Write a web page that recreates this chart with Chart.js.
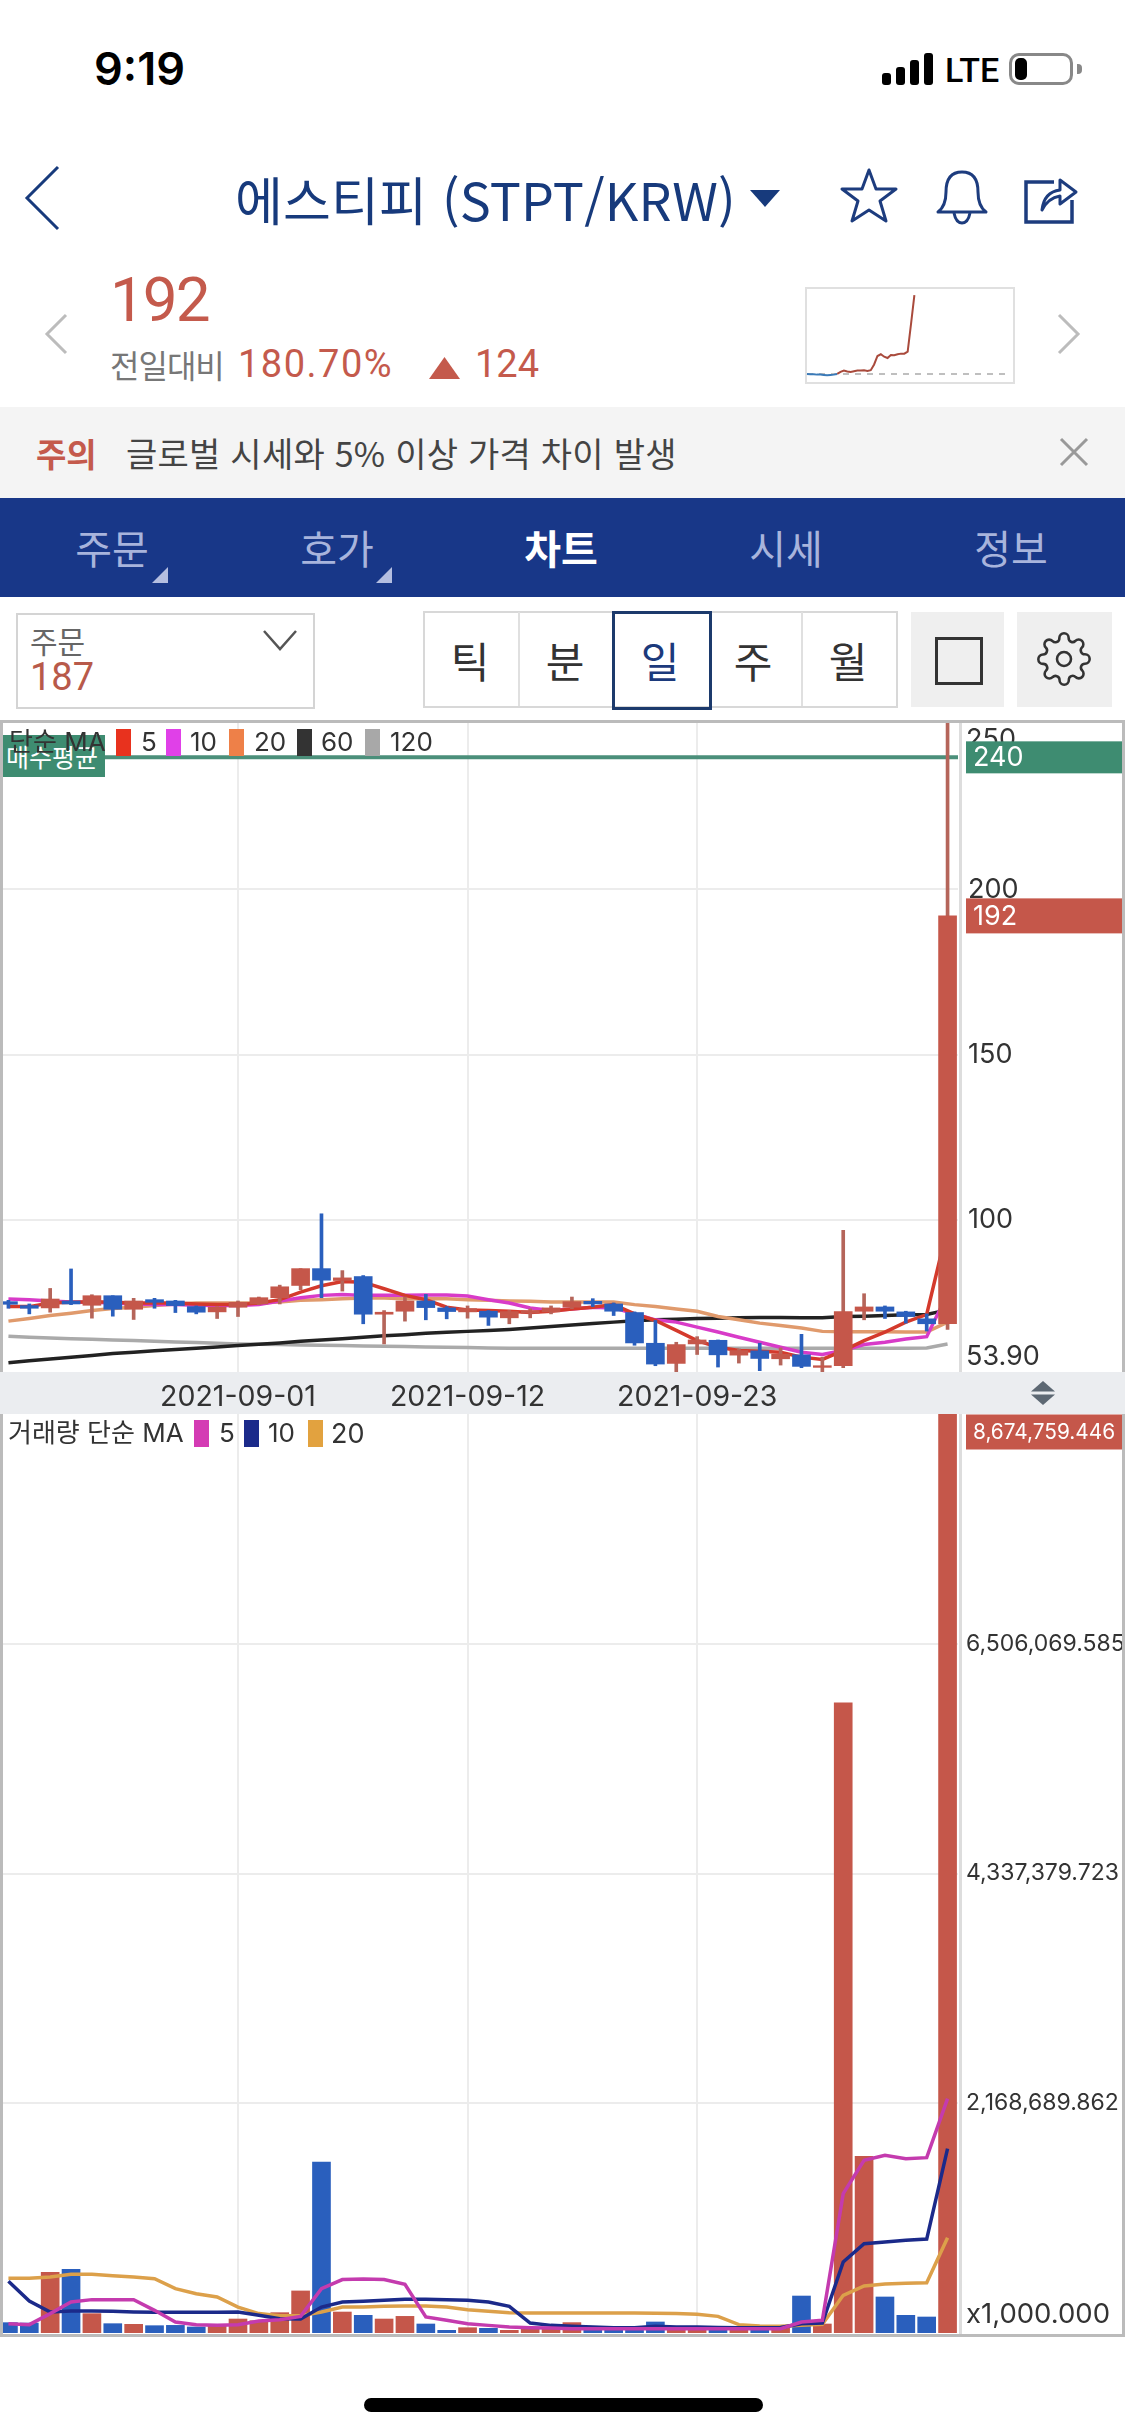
<!DOCTYPE html>
<html lang="ko">
<head>
<meta charset="utf-8">
<title>STPT/KRW</title>
<script src="https://cdn.jsdelivr.net/npm/chart.js@4/dist/chart.umd.js"></script>
<style>
  html, body { margin: 0; padding: 0; background: #fff; }
  #page { position: relative; width: 1125px; height: 2436px; overflow: hidden; background: #fff; font-family: "Noto Sans CJK KR", Roboto, sans-serif; }
  #page div, #page svg, #page canvas { position: absolute; }
  .t { white-space: nowrap; line-height: 1; transform: translateY(-50%); }
  .c { transform: translate(-50%, -50%); }
  .r { font-family: Roboto, sans-serif; }
  .i { font-family: Inter, "Noto Sans CJK KR", sans-serif; }
</style>
</head>
<body>
<div id="page">
  <!-- status bar -->
  <div class="t" style="left:94px;top:68px;font:600 45px Inter;color:#000">9:19</div>
  <div style="left:882px;top:73px;width:9px;height:12px;background:#000;border-radius:3px"></div>
  <div style="left:896px;top:67px;width:9px;height:18px;background:#000;border-radius:3px"></div>
  <div style="left:910px;top:60px;width:9px;height:25px;background:#000;border-radius:3px"></div>
  <div style="left:924px;top:53px;width:9px;height:32px;background:#000;border-radius:3px"></div>
  <div class="t r" style="left:945px;top:70px;font-size:34px;font-weight:500;color:#000">LTE</div>
  <div style="left:1009px;top:53px;width:58px;height:26px;border:3px solid #888;border-radius:10px"></div>
  <div style="left:1015px;top:58px;width:12px;height:22px;background:#000;border-radius:5px"></div>
  <div style="left:1077px;top:64px;width:5px;height:10px;background:#888;border-radius:0 4px 4px 0"></div>

  <!-- title row -->
  <svg style="left:22px;top:165px" width="40" height="66"><polyline points="36,2 5,33 36,64" fill="none" stroke="#173a7c" stroke-width="3"/></svg>
  <div class="t" style="left:235px;top:199px;font-size:52px;letter-spacing:.2px;color:#173a7c">에스티피 (STPT/KRW)</div>
  <svg style="left:750px;top:190px" width="30" height="17"><polygon points="0,0 30,0 15,17" fill="#173a7c"/></svg>
  <svg style="left:838px;top:166px" width="62" height="60"><polygon points="31,4 38,23 58,23 42,35 48,55 31,44 14,55 20,35 4,23 24,23" fill="none" stroke="#1d3c7e" stroke-width="3" stroke-linejoin="round"/></svg>
  <svg style="left:932px;top:166px" width="60" height="62"><path d="M6 46 Q14 40 14 26 Q14 6 30 6 Q46 6 46 26 Q46 40 54 46 Z" fill="none" stroke="#1d3c7e" stroke-width="3" stroke-linejoin="round"/><path d="M22 47 Q24 57 30 57 Q36 57 38 47" fill="none" stroke="#1d3c7e" stroke-width="3"/></svg>
  <svg style="left:1022px;top:170px" width="58" height="56"><path d="M32 12 H4 V52 H50 V30" fill="none" stroke="#1d3c7e" stroke-width="3.5"/><path d="M20 40 Q22 22 38 20 V10 L54 22 L38 34 V26 Q26 28 20 40 Z" fill="none" stroke="#1d3c7e" stroke-width="3" stroke-linejoin="round"/></svg>

  <!-- price row -->
  <div class="t r" style="left:110px;top:300px;font-size:62px;letter-spacing:-2px;color:#c45a4c">192</div>
  <div class="t" style="left:110px;top:364px;font-size:32px;color:#777;letter-spacing:-1px">전일대비</div>
  <div class="t r" style="left:238px;top:364px;font-size:38px;letter-spacing:1.5px;color:#c45a4c">180.70%</div>
  <svg style="left:429px;top:357px" width="31" height="22"><polygon points="15.5,0 31,22 0,22" fill="#c45a4c"/></svg>
  <div class="t r" style="left:475px;top:364px;font-size:38px;color:#c45a4c">124</div>
  <svg style="left:42px;top:312px" width="28" height="44"><polyline points="24,3 5,22 24,41" fill="none" stroke="#bcbcbc" stroke-width="3"/></svg>
  <svg style="left:1055px;top:312px" width="28" height="44"><polyline points="4,3 23,22 4,41" fill="none" stroke="#bcbcbc" stroke-width="3"/></svg>
  <div style="left:805px;top:287px;width:206px;height:93px;border:2px solid #e0e0e0"></div>
  <canvas id="sparkChart" style="left:805px;top:287px" width="208" height="95"></canvas>

  <!-- notice -->
  <div style="left:0;top:407px;width:1125px;height:91px;background:#f4f4f4"></div>
  <div class="t" style="left:36px;top:453px;font-size:33px;font-weight:700;color:#c45a4c">주의</div>
  <div class="t" style="left:126px;top:453px;font-size:34px;color:#444;letter-spacing:.25px">글로벌 시세와 5% 이상 가격 차이 발생</div>
  <svg style="left:1058px;top:436px" width="32" height="32"><path d="M3 3 L29 29 M29 3 L3 29" stroke="#999" stroke-width="3"/></svg>

  <!-- nav -->
  <div style="left:0;top:498px;width:1125px;height:99px;background:#183788"></div>
  <div class="t c" style="left:112px;top:547px;font-size:40px;color:#a8b4dc">주문</div>
  <div class="t c" style="left:337px;top:547px;font-size:40px;color:#a8b4dc">호가</div>
  <div class="t c" style="left:561px;top:547px;font-size:40px;font-weight:700;color:#fff">차트</div>
  <div class="t c" style="left:786px;top:547px;font-size:40px;color:#a8b4dc">시세</div>
  <div class="t c" style="left:1011px;top:547px;font-size:40px;color:#a8b4dc">정보</div>
  <svg style="left:152px;top:567px" width="16" height="16"><polygon points="16,0 16,16 0,16" fill="#b4bee0"/></svg>
  <svg style="left:376px;top:567px" width="16" height="16"><polygon points="16,0 16,16 0,16" fill="#b4bee0"/></svg>

  <!-- toolbar -->
  <div style="left:16px;top:613px;width:295px;height:92px;border:2px solid #d4d4d4"></div>
  <div class="t" style="left:30px;top:640px;font-size:30px;color:#666">주문</div>
  <div class="t r" style="left:30px;top:677px;font-size:38px;color:#b85a4a">187</div>
  <svg style="left:262px;top:629px" width="36" height="22"><polyline points="2,2 18,20 34,2" fill="none" stroke="#555" stroke-width="2.5"/></svg>
  <div style="left:423px;top:611px;width:471px;height:93px;border:2px solid #d8d8d8"></div>
  <div style="left:518px;top:612px;width:2px;height:94px;background:#e0e0e0"></div>
  <div style="left:801px;top:612px;width:2px;height:94px;background:#e0e0e0"></div>
  <div style="left:612px;top:611px;width:94px;height:93px;border:3px solid #1c3a6c"></div>
  <div class="t c" style="left:470px;top:660px;font-size:42px;color:#333">틱</div>
  <div class="t c" style="left:565px;top:660px;font-size:42px;color:#333">분</div>
  <div class="t c" style="left:660px;top:660px;font-size:42px;color:#1c3a7c">일</div>
  <div class="t c" style="left:753px;top:660px;font-size:42px;color:#333">주</div>
  <div class="t c" style="left:848px;top:660px;font-size:42px;color:#333">월</div>
  <div style="left:911px;top:612px;width:93px;height:95px;background:#efefef"></div>
  <div style="left:935px;top:637px;width:42px;height:42px;border:3px solid #333"></div>
  <div style="left:1017px;top:612px;width:95px;height:95px;background:#efefef"></div>
  <svg style="left:1036px;top:631px" width="56" height="56" viewBox="0 0 24 24" fill="none" stroke="#333" stroke-width="1.1"><circle cx="12" cy="12" r="3"/><path d="M19.4 15a1.65 1.65 0 0 0 .33 1.82l.06.06a2 2 0 0 1 0 2.83 2 2 0 0 1-2.83 0l-.06-.06a1.65 1.65 0 0 0-1.82-.33 1.65 1.65 0 0 0-1 1.51V21a2 2 0 0 1-2 2 2 2 0 0 1-2-2v-.09A1.65 1.65 0 0 0 9 19.4a1.65 1.65 0 0 0-1.82.33l-.06.06a2 2 0 0 1-2.83 0 2 2 0 0 1 0-2.83l.06-.06a1.65 1.65 0 0 0 .33-1.82 1.65 1.65 0 0 0-1.51-1H3a2 2 0 0 1-2-2 2 2 0 0 1 2-2h.09A1.65 1.65 0 0 0 4.6 9a1.65 1.65 0 0 0-.33-1.82l-.06-.06a2 2 0 0 1 0-2.83 2 2 0 0 1 2.83 0l.06.06a1.65 1.65 0 0 0 1.82.33H9a1.65 1.65 0 0 0 1-1.51V3a2 2 0 0 1 2-2 2 2 0 0 1 2 2v.09a1.65 1.65 0 0 0 1 1.51 1.65 1.65 0 0 0 1.82-.33l.06-.06a2 2 0 0 1 2.83 0 2 2 0 0 1 0 2.83l-.06.06a1.65 1.65 0 0 0-.33 1.82V9a1.65 1.65 0 0 0 1.51 1H21a2 2 0 0 1 2 2 2 2 0 0 1-2 2h-.09a1.65 1.65 0 0 0-1.51 1z"/></svg>

  <!-- strip between the two panels -->
  <div style="left:0;top:1372px;width:1125px;height:42px;background:#ebedf0"></div>
  <svg style="left:1031px;top:1381px" width="24" height="24"><polygon points="12,0 24,10.5 0,10.5" fill="#5d6873"/><polygon points="12,24 24,13.5 0,13.5" fill="#5d6873"/></svg>

  <canvas id="priceChart" style="left:-2px;top:722px" width="1127" height="692"></canvas>
  <canvas id="volumeChart" style="left:-2px;top:1414px" width="1127" height="919"></canvas>

  <!-- panel frames -->
  <div style="left:0;top:720px;width:1125px;height:3px;background:#bbb"></div>
  <div style="left:0;top:720px;width:3px;height:652px;background:#bbb"></div>
  <div style="left:1122px;top:720px;width:3px;height:652px;background:#bbb"></div>
  <div style="left:959px;top:723px;width:3px;height:649px;background:#ddd"></div>
  <div style="left:0;top:1414px;width:3px;height:923px;background:#bbb"></div>
  <div style="left:1122px;top:1414px;width:3px;height:923px;background:#bbb"></div>
  <div style="left:959px;top:1414px;width:3px;height:920px;background:#ddd"></div>
  <div style="left:0;top:2334px;width:1125px;height:3px;background:#bbb"></div>

  <!-- price legend -->
  <div style="left:3px;top:735px;width:102px;height:42px;background:#3e8c71"></div>
  <div class="t" style="left:6px;top:756px;font-size:25px;color:#fff">매수평균</div>
  <div class="t i" style="left:9px;top:742px;font-size:26px;color:#333">단순 MA</div>
  <div style="left:116px;top:729px;width:15px;height:27px;background:#e8321e"></div>
  <div class="t i" style="left:141px;top:742px;font-size:26px;color:#333">5</div>
  <div style="left:166px;top:729px;width:15px;height:27px;background:#e040e8"></div>
  <div class="t i" style="left:190px;top:742px;font-size:26px;color:#333">10</div>
  <div style="left:229px;top:729px;width:15px;height:27px;background:#ee8048"></div>
  <div class="t i" style="left:254px;top:742px;font-size:26px;color:#333">20</div>
  <div style="left:297px;top:729px;width:15px;height:27px;background:#333"></div>
  <div class="t i" style="left:321px;top:742px;font-size:26px;color:#333">60</div>
  <div style="left:365px;top:729px;width:15px;height:27px;background:#a8a8a8"></div>
  <div class="t i" style="left:390px;top:742px;font-size:26px;color:#333">120</div>

  <!-- volume legend -->
  <div class="t i" style="left:8px;top:1433px;font-size:26px;color:#333">거래량 단순 MA</div>
  <div style="left:194px;top:1420px;width:15px;height:27px;background:#d43bb4"></div>
  <div class="t i" style="left:219px;top:1433px;font-size:26px;color:#333">5</div>
  <div style="left:244px;top:1420px;width:15px;height:27px;background:#1b2a8a"></div>
  <div class="t i" style="left:268px;top:1433px;font-size:26px;color:#333">10</div>
  <div style="left:308px;top:1420px;width:15px;height:27px;background:#e2a23f"></div>
  <div class="t i" style="left:331px;top:1433px;font-size:27px;color:#333">20</div>

  <div style="left:364px;top:2398px;width:399px;height:14px;background:#000;border-radius:7px"></div>
</div>

<script>
const dates = ['2021-08-21','2021-08-22','2021-08-23','2021-08-24','2021-08-25','2021-08-26','2021-08-27','2021-08-28','2021-08-29','2021-08-30','2021-08-31',
  '2021-09-01','2021-09-02','2021-09-03','2021-09-04','2021-09-05','2021-09-06','2021-09-07','2021-09-08','2021-09-09','2021-09-10','2021-09-11',
  '2021-09-12','2021-09-13','2021-09-14','2021-09-15','2021-09-16','2021-09-17','2021-09-18','2021-09-19','2021-09-20','2021-09-21','2021-09-22',
  '2021-09-23','2021-09-24','2021-09-25','2021-09-26','2021-09-27','2021-09-28','2021-09-29','2021-09-30','2021-10-01','2021-10-02','2021-10-03','2021-10-04','2021-10-05']
const dateTicks = ['2021-09-01', '2021-09-12', '2021-09-23']

const opens = [75.2,74.0,73.3,75.4,74.1,77.0,72.9,75.8,75.4,73.7,72.1,73.5,74.5,76.4,80.1,85.2,81.6,82.8,71.4,72.3,75.4,73.3,72.1,72.3,70.3,71.7,72.1,73.5,75.3,74.5,71.9,62.6,56.5,62.4,63.5,59.0,60.3,57.9,59.1,55.3,55.8,72.3,73.6,72.1,70.0,68.5]
const highs = [75.6,74.5,79.2,85.1,77.3,77.0,76.2,76.2,75.6,73.9,73.7,75.4,76.6,80.2,85.2,101.8,84.6,83.1,72.5,76.6,77.4,73.7,73.9,72.5,72.5,73.0,73.9,76.6,76.1,74.8,72.1,69.5,62.9,64.6,63.6,60.9,62.6,61.2,65.3,58.4,96.8,77.6,73.9,72.3,71.5,251]
const lows = [73.2,71.5,72.0,74.3,70.2,70.8,69.8,73.2,71.9,71.5,70.1,70.7,74.3,74.5,78.8,76.4,78.4,68.5,62.4,69.3,69.7,70.0,70.2,68.0,68.5,70.3,71.5,73.1,73.7,71.0,62.0,55.8,53.9,59.2,55.4,56.6,54.3,56.0,55.2,53.9,55.2,69.7,70.1,68.7,66.3,66.8]
const closes = [74.4,73.2,76.0,74.5,77.0,72.9,75.4,75.0,74.0,72.0,73.5,75.0,76.4,79.7,85.2,81.7,82.4,71.4,72.0,75.4,73.4,72.2,73.1,70.5,72.2,72.5,73.3,75.2,74.5,72.3,62.7,56.3,62.2,63.6,59.1,60.4,58.0,59.3,55.6,55.8,72.2,73.6,72.3,70.7,68.5,192]

const ma5 = [73.7,73.7,74.8,75.0,75.2,75.0,74.8,74.8,74.8,74.5,74.3,74.3,74.8,75.8,78.1,80.0,81.3,81.1,79.1,77.1,75.8,73.5,72.7,72.5,72.3,71.9,72.3,73.0,73.5,74.3,71.5,69.5,66.5,63.4,61.4,60.4,60.2,59.9,58.4,57.7,60.4,63.4,66.0,69.0,71.3,97.8]
const ma10 = [76.0,75.8,75.4,75.1,75.0,74.8,74.5,74.3,74.3,74.1,74.0,74.0,74.3,75.4,76.4,77.1,77.4,77.1,77.1,77.1,77.2,77.2,76.9,75.8,74.8,73.3,72.5,73.0,73.5,73.3,71.5,69.7,69.0,67.5,66.0,64.4,62.9,61.4,59.9,59.2,60.4,62.2,62.9,63.9,64.6,77.6]
const ma20 = [69.3,70.1,71.0,71.7,72.5,73.1,73.5,74.0,74.5,74.8,74.8,74.8,74.8,75.1,75.6,75.8,76.1,76.3,76.3,76.1,76.1,76.1,75.8,75.6,75.4,75.3,75.1,75.1,75.1,75.1,74.3,73.7,73.0,72.3,70.7,69.7,68.7,68.0,67.2,66.2,66.1,66.1,66.1,66.0,66.0,69.0]
const ma60 = [56.7,57.3,57.8,58.4,58.9,59.5,59.9,60.3,60.7,61.1,61.5,61.9,62.3,62.7,63.2,63.6,64.0,64.4,64.9,65.2,65.6,65.9,66.2,66.5,66.8,67.2,67.7,68.1,68.6,69.0,69.4,69.7,69.9,70.1,70.2,70.3,70.4,70.4,70.3,70.3,70.7,70.8,71.0,71.2,71.3,72.7]
const ma120 = [64.7,64.4,64.2,64.0,63.8,63.6,63.4,63.2,63.0,62.8,62.6,62.4,62.3,62.2,62.1,62.0,61.9,61.8,61.7,61.6,61.5,61.4,61.3,61.2,61.1,61.1,61.1,61.1,61.1,61.1,61.1,61.1,61.1,61.1,61.1,61.1,61.1,61.1,61.1,61.1,61.1,61.1,61.1,61.1,61.2,62.4]

const priceTicks = [100, 150, 200]
const priceMin = 53.9
const priceMax = 250.7
const avgBuyPrice = 240
const lastPrice = 192

const volumes = [97600,94000,573000,601000,182500,88000,82000,69000,72000,57000,69000,132000,116000,192000,397000,1614000,198000,167000,132000,157000,85000,25000,50000,44000,25000,41000,41000,98000,47000,25000,41000,104000,41000,41000,47000,25000,47000,50000,349000,85000,5948000,1668000,340000,167000,151000,8674759.446]
const volMa5 = [88000,79000,183000,293000,315000,315000,315000,214000,104000,79000,72000,79000,113000,126000,157000,419000,504000,510000,504000,459000,151000,120000,88000,72000,57000,50000,47000,41000,41000,41000,41000,41000,41000,41000,41000,41000,41000,41000,104000,120000,1315000,1630000,1677000,1646000,1655000,2212000]
const volMa10 = [488000,302000,198000,208000,208000,205000,198000,195000,195000,195000,195000,198000,167000,135000,132000,245000,293000,299000,308000,318000,318000,315000,308000,293000,252000,94000,72000,63000,57000,50000,50000,63000,57000,57000,53000,50000,50000,53000,88000,94000,670000,843000,859000,875000,887000,1740000]
const volMa20 = [516000,516000,529000,554000,554000,541000,529000,513000,419000,371000,340000,245000,183000,164000,164000,198000,245000,245000,252000,255000,255000,245000,220000,205000,192000,189000,189000,189000,189000,189000,189000,186000,183000,176000,157000,79000,66000,63000,72000,82000,356000,444000,463000,469000,475000,900000]

const volumeTicks = [2168689.862, 4337379.723, 6506069.585]
const volumeTickLabels = ['2,168,689.862', '4,337,379.723', '6,506,069.585']
const volumeMax = 8674759.446

const sparkValues = [68.0,67.5,67.5,66.9,66.9,66.4,65.9,66.4,66.9,68.0,71.2,73.3,71.7,71.2,72.3,73.3,73.3,73.9,72.8,73.9,82.9,96.2,98.9,95.1,93.0,97.8,97.3,98.9,99.9,99.9,103.0,146.7,192.0]
const sparkPrevClose = 68

const red = '#c5574a'
const blue = '#2a5fbd'
const redWick = '#b5655a'
const upDown = closes.map((c, i) => c >= opens[i])
const bodyColors = upDown.map(up => up ? red : blue)
const wickColors = upDown.map(up => up ? redWick : blue)

Chart.defaults.font.family = 'Inter'
Chart.defaults.animation = false

function maLine (data, color, order) {
  return { type: 'line', data: data, borderColor: color, borderWidth: 3.5, pointRadius: 0, tension: 0, order: order }
}

function gridColor (color) {
  return { color: color, lineWidth: 2, drawTicks: false }
}

function keepDateTicks (axis) {
  axis.ticks = axis.ticks.filter(t => dateTicks.includes(dates[t.value]))
}

function fitRightAxis (axis) {
  axis.width = 167
  axis.paddingTop = 0
  axis.paddingBottom = 0
}

function fitDateAxis (height) {
  return axis => {
    axis.height = height
    axis.paddingLeft = 0
    axis.paddingRight = 0
  }
}

function badge (ctx, y, height, color, text, font) {
  ctx.fillStyle = color
  ctx.fillRect(968, y - height / 2, 156, height)
  ctx.fillStyle = '#fff'
  ctx.font = font
  ctx.textAlign = 'left'
  ctx.textBaseline = 'middle'
  ctx.fillText(text, 975, y + 1)
}

const buyLine = {
  id: 'buyLine',
  beforeDatasetsDraw (chart) {
    const y = chart.scales.y.getPixelForValue(avgBuyPrice)
    const ctx = chart.ctx
    ctx.save()
    ctx.strokeStyle = '#4b8f7a'
    ctx.lineWidth = 4
    ctx.beginPath()
    ctx.moveTo(chart.chartArea.left, y)
    ctx.lineTo(chart.chartArea.right, y)
    ctx.stroke()
    ctx.restore()
  }
}

const priceLabels = {
  id: 'priceLabels',
  afterDraw (chart) {
    const ctx = chart.ctx
    const y = chart.scales.y
    ctx.save()
    ctx.fillStyle = '#333'
    ctx.font = '27px Inter'
    ctx.textBaseline = 'middle'
    ctx.fillText('250', 968, y.top + 18)
    ctx.fillText('53.90', 968, y.bottom - 15)
    badge(ctx, y.getPixelForValue(avgBuyPrice), 32, '#3e8c71', String(avgBuyPrice), '27px Inter')
    badge(ctx, y.getPixelForValue(lastPrice), 35, red, String(lastPrice), '27px Inter')
    ctx.restore()
  }
}

const volumeLabels = {
  id: 'volumeLabels',
  afterDraw (chart) {
    const ctx = chart.ctx
    const y = chart.scales.y
    ctx.save()
    ctx.fillStyle = '#333'
    ctx.font = '27.5px Inter'
    ctx.textBaseline = 'middle'
    ctx.fillText('x1,000.000', 968, y.bottom - 18)
    badge(ctx, y.top + 18, 35, red, '8,674,759.446', '20.8px Inter')
    ctx.restore()
  }
}

new Chart(document.getElementById('priceChart'), {
  type: 'bar',
  data: {
    labels: dates,
    datasets: [
      { data: opens.map((o, i) => [o, closes[i]]), backgroundColor: bodyColors, barThickness: 18, grouped: false, order: 1 },
      { data: lows.map((l, i) => [l, highs[i]]), backgroundColor: wickColors, barThickness: 3, grouped: false, order: 2 },
      maLine(ma5, '#d43a2c', 3),
      maLine(ma10, '#d83bc8', 4),
      maLine(ma20, '#e09a6c', 5),
      maLine(ma60, '#222', 6),
      maLine(ma120, '#aaa', 7)
    ]
  },
  options: {
    responsive: false,
    layout: { padding: 0 },
    plugins: { legend: { display: false }, tooltip: { enabled: false } },
    scales: {
      x: {
        offset: true,
        afterBuildTicks: keepDateTicks,
        afterFit: fitDateAxis(42),
        grid: { ...gridColor('#ececec'), offset: false },
        border: { display: false },
        ticks: { autoSkip: false, maxRotation: 0, padding: 8, color: '#333', font: { size: 28.5 } }
      },
      y: {
        position: 'right',
        min: priceMin,
        max: priceMax,
        afterBuildTicks: axis => { axis.ticks = priceTicks.map(v => ({ value: v })) },
        afterFit: fitRightAxis,
        grid: gridColor('#ececec'),
        border: { display: false },
        ticks: { autoSkip: false, padding: 10, color: '#333', font: { size: 27 }, callback: v => String(v) }
      }
    }
  },
  plugins: [buyLine, priceLabels]
})

new Chart(document.getElementById('volumeChart'), {
  type: 'bar',
  data: {
    labels: dates,
    datasets: [
      maLine(volMa5, '#c43bae', 1),
      maLine(volMa10, '#1b2a8a', 2),
      maLine(volMa20, '#dca04a', 3),
      { data: volumes, backgroundColor: bodyColors, barThickness: 18, order: 4 }
    ]
  },
  options: {
    responsive: false,
    layout: { padding: 0 },
    plugins: { legend: { display: false }, tooltip: { enabled: false } },
    scales: {
      x: {
        offset: true,
        afterBuildTicks: keepDateTicks,
        afterFit: fitDateAxis(0),
        grid: { ...gridColor('#ececec'), offset: false },
        border: { display: false },
        ticks: { display: false }
      },
      y: {
        position: 'right',
        min: 0,
        max: volumeMax,
        afterBuildTicks: axis => { axis.ticks = volumeTicks.map(v => ({ value: v })) },
        afterFit: fitRightAxis,
        grid: gridColor('#ececec'),
        border: { display: false },
        ticks: {
          autoSkip: false,
          padding: 8,
          color: '#333',
          font: { size: 23 },
          callback: v => volumeTickLabels[volumeTicks.indexOf(v)]
        }
      }
    }
  },
  plugins: [volumeLabels]
})

// small trend picture in the price row
const sparkLabels = Array.from({ length: 60 }, (_, i) => i)
new Chart(document.getElementById('sparkChart'), {
  type: 'line',
  data: {
    labels: sparkLabels,
    datasets: [
      {
        data: sparkValues,
        borderWidth: 2,
        pointRadius: 0,
        borderColor: '#a94a3c',
        segment: { borderColor: c => c.p0DataIndex < 9 ? '#3a7ab8' : '#a94a3c' },
        order: 1
      },
      { data: sparkLabels.map(() => sparkPrevClose), borderColor: '#aaa', borderWidth: 1.5, borderDash: [6, 6], pointRadius: 0, order: 2 }
    ]
  },
  options: {
    responsive: false,
    layout: { padding: { left: 2, right: 8, top: 0, bottom: 0 } },
    plugins: { legend: { display: false }, tooltip: { enabled: false } },
    scales: {
      x: { display: false },
      y: { display: false, min: 55.3, max: 204.7 }
    }
  }
})
</script>
</body>
</html>
